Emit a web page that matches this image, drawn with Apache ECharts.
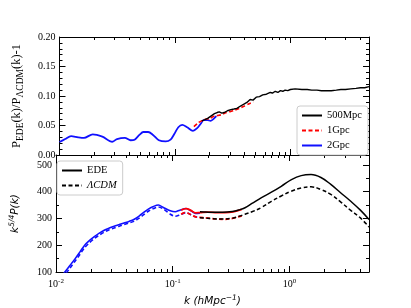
<!DOCTYPE html>
<html><head><meta charset="utf-8">
<script src="https://cdn.jsdelivr.net/npm/echarts@6/dist/echarts.min.js"></script>
<style>html,body{margin:0;padding:0;background:#fff}#c{width:411px;height:308px}</style>
</head><body><div id="c"></div>
<script>
// ---- data ----
// top panel: P_EDE/P_LCDM - 1
const kBlueTop = [0.01,0.0112,0.0126,0.0145,0.0163,0.0194,0.0235,0.0286,0.0315,0.0368,0.0413,0.0447,0.0492,0.0532,0.0586,0.0646,0.0726,0.0832,0.0916,0.099,0.107,0.1157,0.1275,0.1433,0.1549,0.1674,0.1774,0.1918,0.2032,0.2154,0.2284];
const vBlueTop = [0.022,0.027,0.032,0.030,0.029,0.035,0.031,0.0225,0.027,0.029,0.025,0.026,0.034,0.039,0.039,0.034,0.025,0.023,0.026,0.036,0.047,0.051,0.047,0.041,0.045,0.053,0.059,0.059,0.058,0.061,0.066];
const kRedTop = [0.146,0.16,0.18,0.20,0.22,0.25,0.28,0.32,0.36,0.40,0.44,0.48];
const vRedTop = [0.048,0.055,0.060,0.062,0.066,0.068,0.072,0.075,0.079,0.083,0.087,0.090];
const kBlackTop = [0.171,0.182,0.192,0.205,0.22,0.232,0.242,0.255,0.267,0.285,0.305,0.325,0.344,0.37,0.393,0.42,0.448,0.475,0.506,0.54,0.576,0.62,0.67,0.70,0.74,0.78,0.82,0.86,0.9,0.95,1.0,1.1,1.26,1.4,1.53,1.7,1.86,2.05,2.26,2.5,2.74,3.0,3.33,3.7,4.05,4.4,4.8];
const vBlackTop = [0.058,0.060,0.062,0.066,0.070,0.072,0.073,0.071,0.072,0.075,0.077,0.078,0.079,0.083,0.086,0.089,0.094,0.093,0.098,0.099,0.102,0.103,0.106,0.105,0.108,0.106,0.109,0.108,0.110,0.109,0.111,0.112,0.111,0.111,0.110,0.110,0.109,0.109,0.109,0.110,0.111,0.111,0.112,0.113,0.114,0.114,0.116];
// bottom panel: k^{5/4} P(k)
const kBlueBot = [0.0112,0.0119,0.0132,0.0146,0.0161,0.0176,0.0194,0.0213,0.0235,0.0259,0.0286,0.0315,0.0348,0.0383,0.0422,0.0464,0.0512,0.0564,0.0622,0.0685,0.0754,0.0832,0.0952,0.105,0.115,0.13,0.143,0.157,0.171];
const vBlueEDE = [86,100,125,150,176,200,218,232,245,256,264,271,277,283,289,296,308,323,336,345,350,341,329,325,331,337,329,319,320];
const vBlueLCDM = [78,90,115,141,167,191,210,225,238,249,258,264,271,277,283,289,300,314,328,337,343,335,316,308,313,322,314,306,304];
const kRedBot = [0.118,0.13,0.143,0.157,0.171,0.2,0.24,0.28,0.33,0.39];
const vRedEDE = [331,337,330,321,322,324,322,322,325,334];
const vRedLCDM = [316,322,314,306,304,301,298,297,301,310];
const kBlackBot = [0.171,0.192,0.22,0.267,0.324,0.37,0.416,0.477,0.576,0.70,0.85,1.04,1.26,1.53,1.86,2.26,2.74,3.33,4.05,4.8];
const vBlackEDE = [325,324,323,323,326,332,340,356,378,398,420,445,460,464,453,427,396,365,331,296];
const vBlackLCDM = [303,301,299,298,301,308,316,325,341,364,384,402,414,418,408,390,362,331,302,268];
// ticks
const xMajor = [0.01,0.1,1];
const xMinor = [0.02,0.03,0.04,0.05,0.06,0.07,0.08,0.09,0.2,0.3,0.4,0.5,0.6,0.7,0.8,0.9,2,3,4];

const pairs = (k, v) => k.map((x, i) => [x, v[i]]);
const XMIN = 0.01, XMAX = 4.8;
const SERIF = 'Liberation Serif';
const grids = [
  {left: 51, top: 37, width: 318, height: 118},
  {left: 51, top: 155, width: 318, height: 119}
];
function xAxes(gi, labels) {
  const base = {type: 'log', logBase: 10, gridIndex: gi, min: XMIN, max: XMAX,
    splitLine: {show: false}, axisLine: {show: true, lineStyle: {color: '#000', width: 1}}};
  return [
    Object.assign({}, base, {position: 'bottom',
      axisTick: {show: true, inside: true, length: 6, customValues: xMajor, lineStyle: {color: '#000'}},
      axisLabel: {show: labels, customValues: xMajor, margin: 6, fontFamily: SERIF, fontSize: 10, color: '#000',
        formatter: v => '10{s|' + Math.round(Math.log10(v)) + '}',
        rich: {s: {fontSize: 7, fontFamily: SERIF, padding: [0, 0, 6, 0], color: '#000'}}},
      name: labels ? '{i|k} {i|(hMpc}{s|−1}{i|)}' : '', nameLocation: 'middle', nameGap: 22,
      nameTextStyle: {rich: {i: {fontFamily: 'DejaVu Sans', fontStyle: 'italic', fontSize: 10.5, color: '#000'},
        s: {fontFamily: 'DejaVu Sans', fontStyle: 'italic', fontSize: 7.5, padding: [0, 0, 6, 0], color: '#000'}}}}),
    Object.assign({}, base, {position: 'bottom', axisLine: {show: false},
      axisTick: {show: true, inside: true, length: 3, customValues: xMinor, lineStyle: {color: '#000'}},
      axisLabel: {show: false}}),
    Object.assign({}, base, {position: 'top',
      axisTick: {show: true, inside: true, length: 6, customValues: xMajor, lineStyle: {color: '#000'}},
      axisLabel: {show: false}}),
    Object.assign({}, base, {position: 'top', axisLine: {show: false},
      axisTick: {show: true, inside: true, length: 3, customValues: xMinor, lineStyle: {color: '#000'}},
      axisLabel: {show: false}})
  ];
}
function yAxes(gi, min, max, interval, minorSplit, fmt, name, rich, gap) {
  const base = {type: 'value', gridIndex: gi, min: min, max: max, interval: interval,
    splitLine: {show: false}, minorSplitLine: {show: false},
    axisLine: {show: true, lineStyle: {color: '#000'}},
    axisTick: {show: true, inside: true, length: 6, lineStyle: {color: '#000'}},
    minorTick: {show: true, splitNumber: minorSplit, length: 3, lineStyle: {color: '#000'}}};
  return [
    Object.assign({}, base, {position: 'left',
      axisLabel: {fontFamily: SERIF, fontSize: 10, color: '#000', margin: 4, formatter: fmt, showMaxLabel: max % interval === 0 || Math.abs(max/interval - Math.round(max/interval)) < 1e-9},
      name: name, nameLocation: 'middle', nameGap: gap, nameRotate: 90, nameTextStyle: {rich: rich}}),
    Object.assign({}, base, {position: 'right', axisLabel: {show: false}})
  ];
}
const topRich = {
  n: {fontFamily: SERIF, fontSize: 12.5, color: '#000', lineHeight: 14},
  s: {fontFamily: SERIF, fontSize: 9.5, color: '#000', lineHeight: 10, padding: [7, 0, 0, 0]}
};
const botRich = {
  i: {fontFamily: 'DejaVu Sans', fontStyle: 'italic', fontSize: 10.5, color: '#000', lineHeight: 13},
  u: {fontFamily: 'DejaVu Sans', fontStyle: 'italic', fontSize: 7.5, color: '#000', lineHeight: 9, padding: [0, 0, 7, 0]}
};
const BLUE = '#1010ff', RED = '#ff0000', BLACK = '#000000';
function line(name, xi, yi, data, color, dashed, width, smooth) {
  return {type: 'line', name: name, xAxisIndex: xi, yAxisIndex: yi, data: data, symbol: 'none',
    smooth: smooth, clip: true, lineStyle: {color: color, width: width, type: dashed ? [4, 2.5] : 'solid'},
    itemStyle: {color: color}, emphasis: {disabled: true}};
}
const legendCommon = {orient: 'vertical', itemWidth: 20, itemHeight: 10, itemGap: 4, padding: [4, 6, 4, 4],
  borderColor: '#cccccc', borderWidth: 1, borderRadius: 3, backgroundColor: '#fff',
  itemStyle: {opacity: 0, borderWidth: 0}, inactiveColor: '#000'};
const option = {
  animation: false,
  backgroundColor: '#fff',
  grid: grids,
  xAxis: xAxes(0, false).concat(xAxes(1, true)),
  yAxis: yAxes(0, 0, 0.2, 0.05, 5, v => v.toFixed(2),
      '{n|P}{s|EDE}{n|(k)/P}{s|ΛCDM}{n|(k)-1}', topRich, 36)
    .concat(yAxes(1, 100, 537, 100, 2, v => String(v),
      '{i|k}{u|5/4}{i|P(k)}', botRich, 34)),
  legend: [
    Object.assign({}, legendCommon, {left: 297, top: 106, data: ['500Mpc', '1Gpc', '2Gpc'],
      textStyle: {fontFamily: SERIF, fontSize: 10.5, color: '#000'}}),
    Object.assign({}, legendCommon, {left: 57, top: 161, data: ['EDE', 'ΛCDM'],
      formatter: n => n === 'ΛCDM' ? '{it|ΛCDM}' : n,
      textStyle: {fontFamily: SERIF, fontSize: 10.5, color: '#000',
        rich: {it: {fontFamily: SERIF, fontStyle: 'italic', fontSize: 10.5, color: '#000'}}}})
  ],
  series: [
    line('2Gpc', 0, 0, pairs(kBlueTop, vBlueTop), BLUE, false, 1.8, 0.3),
    line('1Gpc', 0, 0, pairs(kRedTop, vRedTop), RED, true, 1.6, 0.2),
    line('500Mpc', 0, 0, pairs(kBlackTop, vBlackTop), BLACK, false, 1.4, false),
    line('EDE2G', 4, 2, pairs(kBlueBot, vBlueEDE), BLUE, false, 1.6, 0.3),
    line('LCDM2G', 4, 2, pairs(kBlueBot, vBlueLCDM), BLUE, true, 1.6, 0.3),
    line('EDE1G', 4, 2, pairs(kRedBot, vRedEDE), RED, false, 1.8, 0.4),
    line('LCDM1G', 4, 2, pairs(kRedBot, vRedLCDM), RED, true, 1.8, 0.4),
    line('EDE', 4, 2, pairs(kBlackBot, vBlackEDE), BLACK, false, 1.5, 0.4),
    line('ΛCDM', 4, 2, pairs(kBlackBot, vBlackLCDM), BLACK, true, 1.5, 0.4)
  ]
};
const chart = echarts.init(document.getElementById('c'), null, {renderer: 'canvas'});
chart.setOption(option);
</script>
</body></html>
